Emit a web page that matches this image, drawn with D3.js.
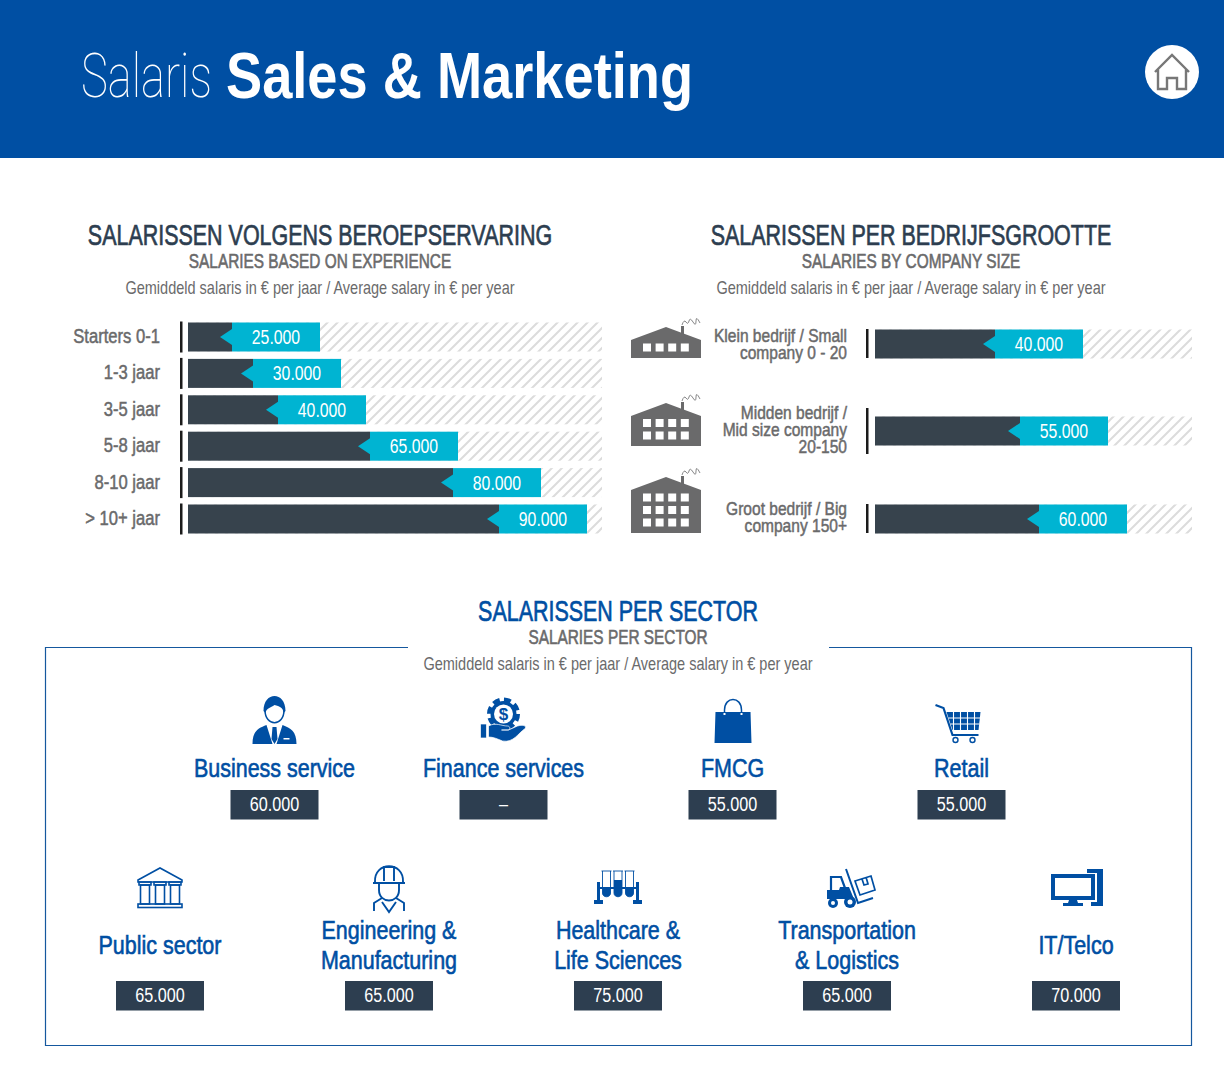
<!DOCTYPE html>
<html>
<head>
<meta charset="utf-8">
<script src="https://cdnjs.cloudflare.com/ajax/libs/d3/7.8.5/d3.min.js"></script>
<style>
html, body { margin: 0; padding: 0; background: #fff; }
svg { display: block; }
text { font-family: "Liberation Sans", sans-serif; }
</style>
</head>
<body>
<div id="body"></div>
<script>
// data
const expCategories = ["Starters 0-1", "1-3 jaar", "3-5 jaar", "5-8 jaar", "8-10 jaar", "> 10+ jaar"];
const expValues = [25000, 30000, 40000, 65000, 80000, 90000];
const sizeCategories = [
  ["Klein bedrijf / Small", "company 0 - 20"],
  ["Midden bedrijf /", "Mid size company", "20-150"],
  ["Groot bedrijf / Big", "company 150+"]
];
const sizeValues = [40000, 55000, 60000];
const sectorTop = ["Business service", "Finance services", "FMCG", "Retail"];
const sectorTopValues = [60000, null, 55000, 55000];
const sectorBottom = [["Public sector"], ["Engineering &", "Manufacturing"], ["Healthcare &", "Life Sciences"], ["Transportation", "& Logistics"], ["IT/Telco"]];
const sectorBottomValues = [65000, 65000, 75000, 65000, 70000];
const avgText = "Gemiddeld salaris in € per jaar / Average salary in € per year";

const BLUE = "#004fa3", DARK = "#37434d", CYAN = "#00b4d2", GREY = "#6a6a6b", BOX = "#2d3e50";
const fmt = v => v == null ? "–" : d3.format(",")(v).replace(/,/g, ".");

const svg = d3.select("#body").append("svg").attr("width", 1224).attr("height", 1076);

svg.append("defs").append("pattern")
  .attr("id", "hatch").attr("width", 10).attr("height", 10)
  .attr("patternUnits", "userSpaceOnUse")
  .append("path").attr("d", "M-2,2 L2,-2 M0,10 L10,0 M8,12 L12,8")
  .attr("stroke", "#dcdcdc").attr("stroke-width", 2);

// no condensed font here, so the text is squeezed to the width it has in the picture
const condense = (t, k) => {
  t.attr("textLength", function () { return this.getComputedTextLength() * k; })
    .attr("lengthAdjust", "spacingAndGlyphs");
  return t;
};
const label = (g, str, x, y, size, fill, opts = {}) => {
  const t = g.append("text").text(str).attr("x", x).attr("y", y)
    .attr("font-size", size).attr("fill", fill)
    .attr("text-anchor", opts.anchor || "middle")
    .attr("font-weight", opts.weight || "normal");
  if (opts.family) t.style("font-family", opts.family);
  if (opts.width) t.attr("textLength", opts.width).attr("lengthAdjust", "spacingAndGlyphs");
  if (opts.k) condense(t, opts.k);
  if (opts.bold) t.attr("stroke", fill).attr("stroke-width", opts.bold);
  return t;
};

// header
svg.append("rect").attr("width", 1224).attr("height", 158).attr("fill", BLUE);
label(svg, "Salaris", 81, 97, 62, "#fff", { anchor: "start", width: 131, weight: 100, family: "Roboto" });
label(svg, "Sales & Marketing", 226, 98, 64, "#fff", { anchor: "start", width: 467, weight: "bold" });
const home = svg.append("g").attr("transform", "translate(1172,72)");
home.append("circle").attr("r", 27).attr("fill", "#fff");
home.append("path")
  .attr("d", "M-17,0 L0,-17 L17,0 M-14,-3 V17 H-5 V6 H5 V17 H14 V-3")
  .attr("fill", "none").attr("stroke", "#777").attr("stroke-width", 2.4);

const heading = (cx, y, a, b, colour) => {
  label(svg, a, cx, y, 29, colour, { k: 0.74, bold: 0.7 });
  label(svg, b, cx, y + 23, 20.5, GREY, { k: 0.75, bold: 0.6 });
  label(svg, avgText, cx, y + 49, 18.5, GREY, { k: 0.784 });
};
heading(320, 245, "SALARISSEN VOLGENS BEROEPSERVARING", "SALARIES BASED ON EXPERIENCE", BOX);
heading(911, 245, "SALARISSEN PER BEDRIJFSGROOTTE", "SALARIES BY COMPANY SIZE", BOX);

// horizontal bars: dark part, cyan value tag with a notch, hatched track behind
const drawBars = (g, values, xScale, yScale, x0, x1, tagWidth) => {
  const h = 29;
  const row = g.selectAll("g.row").data(values).join("g").attr("class", "row");
  row.append("rect").attr("x", x0).attr("y", (d, i) => yScale(i) - h / 2)
    .attr("width", x1 - x0).attr("height", h).attr("fill", "url(#hatch)");
  row.append("rect").attr("x", x0).attr("y", (d, i) => yScale(i) - h / 2)
    .attr("width", d => xScale(d) - x0 - tagWidth).attr("height", h).attr("fill", DARK);
  row.append("rect").attr("x", d => xScale(d) - tagWidth).attr("y", (d, i) => yScale(i) - h / 2)
    .attr("width", tagWidth).attr("height", h).attr("fill", CYAN);
  row.append("path").attr("fill", CYAN)
    .attr("d", (d, i) => {
      const x = xScale(d) - tagWidth, y = yScale(i);
      return `M${x},${y - 8} L${x - 12},${y} L${x},${y + 8} Z`;
    });
  const vals = row.append("text").text(fmt)
    .attr("x", d => xScale(d) - tagWidth / 2).attr("y", (d, i) => yScale(i) + 7)
    .attr("text-anchor", "middle").attr("font-size", 20).attr("fill", "#fff");
  condense(vals, 0.79);
};

// experience chart, the bars of the picture are not proportional so the scale is piecewise
const expX = d3.scaleLinear().domain([0].concat(expValues)).range([188, 320, 341, 366, 458, 541, 587]);
const expY = d3.scalePoint().domain(d3.range(expValues.length)).range([337, 519]);
const expG = svg.append("g");
drawBars(expG, expValues, expX, expY, 188, 602, 88);
expCategories.forEach((c, i) => {
  label(expG, c, 160, expY(i) + 6, 20, GREY, { anchor: "end", k: 0.83, bold: 0.5 });
  expG.append("rect").attr("x", 180).attr("width", 2.5).attr("y", expY(i) - 15.5).attr("height", 31).attr("fill", "#1b1b1b");
});

// company size chart
const sizeX = d3.scaleLinear().domain([0].concat(sizeValues)).range([875, 1083, 1108, 1127]);
const sizeYs = [344, 431, 519];
const sizeY = i => sizeYs[i];
const sizeG = svg.append("g");
drawBars(sizeG, sizeValues, sizeX, sizeY, 875, 1192, 88);

const factory = (g, x, base, rows) => {
  const f = g.append("g").attr("transform", `translate(${x},${base})`);
  const wall = rows === 1 ? 18 : rows === 2 ? 30 : 43;
  const peak = wall + 13;
  f.append("path").attr("fill", GREY)
    .attr("d", `M0,0 V${-wall} L35,${-peak} L70,${-wall} V0 Z`);
  f.append("rect").attr("x", 50).attr("y", -peak - 1).attr("width", 3).attr("height", 8).attr("fill", GREY);
  f.append("path").attr("fill", "none").attr("stroke", GREY).attr("stroke-width", 0.8)
    .attr("d", `M51,${-peak - 2} q2,-6 4,-3 t3,-1 t4,1 t3,-1 t4,2`);
  for (let r = 0; r < rows; r++) {
    for (let c = 0; c < 4; c++) {
      f.append("rect").attr("x", 12 + c * 12.6).attr("y", -14.5 - r * 12.5)
        .attr("width", 8).attr("height", 8).attr("fill", "#fff");
    }
  }
};
sizeCategories.forEach((lines, i) => {
  factory(sizeG, 631, [358, 446, 533][i], i + 1);
  const lh = 17;
  const last = [360, 454, 533][i];
  lines.forEach((l, j) => {
    label(sizeG, l, 847, last - 1 - (lines.length - 1 - j) * lh, 18.5, GREY, { anchor: "end", k: 0.84, bold: 0.5 });
  });
  const tick = [[329, 29], [408, 46], [504, 29]][i];
  sizeG.append("rect").attr("x", 866).attr("width", 2.5).attr("y", tick[0]).attr("height", tick[1]).attr("fill", "#1b1b1b");
});

// sector box
svg.append("path").attr("fill", "none").attr("stroke", "#15589e").attr("stroke-width", 1.2)
  .attr("d", "M408,647.5 H45.5 V1045.5 H1191.5 V647.5 H829");
heading(618, 621, "SALARISSEN PER SECTOR", "SALARIES PER SECTOR", BLUE);

const ic = (x, y) => svg.append("g").attr("transform", `translate(${x},${y})`).attr("fill", BLUE);
const line = g => g.attr("fill", "none").attr("stroke", BLUE);

const icons = [
  // business man
  (x, y) => {
    const g = ic(x, y);
    g.append("path").attr("d", "M-22,23 C-22,10 -16,7 -8,4 L-2,23 Z M22,23 C22,10 16,7 8,4 L2,23 Z M-2,6 H2 L3,18 L0,23 L-3,18 Z");
    g.append("path").attr("d", "M-11,-10 C-11,-30 11,-30 11,-10 L9,-8 C9,-13 5,-15 0,-16 C-4,-13 -8,-13 -9,-8 Z");
    line(g.append("path")).attr("stroke-width", 1.5).attr("d", "M-9.5,-11 C-9.5,6 9.5,6 9.5,-11");
    g.append("rect").attr("x", 9).attr("y", 17).attr("width", 6).attr("height", 1.5).attr("fill", "#fff");
  },
  // gear, dollar and hand
  (x, y) => {
    const g = ic(x, y);
    g.append("circle").attr("r", 13).attr("cy", -7);
    line(g.append("circle")).attr("r", 14).attr("cy", -7).attr("stroke-width", 5).attr("stroke-dasharray", "6.8 4.2");
    g.append("circle").attr("r", 9.5).attr("cy", -7).attr("fill", "#fff");
    g.append("text").text("$").attr("y", -1).attr("text-anchor", "middle").attr("font-size", 17).attr("font-weight", "bold").attr("fill", BLUE);
    g.append("path").attr("d", "M-23,3 H-17 V17 H-23 Z M-15,5 C-8,1 -2,5 4,5 C7,5 7,9 4,9 H-2 H5 L14,5 C21,3 24,6 21,8 C15,12 10,22 -1,20 C-6,18 -10,16 -15,16 Z").attr("stroke", "#fff").attr("stroke-width", 0.7);
  },
  // shopping bag
  (x, y) => {
    const g = ic(x, y);
    g.append("path").attr("d", "M-17,-9 H18 L19,22 H-18 Z");
    line(g.append("path")).attr("stroke-width", 1.5).attr("d", "M-8,-5 V-11 C-8,-25 9,-25 9,-11 V-5");
    g.append("rect").attr("x", -9).attr("y", -8).attr("width", 2).attr("height", 2).attr("fill", "#fff");
    g.append("rect").attr("x", 8).attr("y", -8).attr("width", 2).attr("height", 2).attr("fill", "#fff");
  },
  // cart
  (x, y) => {
    const g = ic(x, y);
    line(g.append("path")).attr("stroke-width", 2.2).attr("d", "M-26,-16 L-18,-13 L-9,14 H17");
    g.append("path").attr("d", "M-15,-9 H19 L17,9 H-9 Z");
    line(g.append("path")).attr("stroke", "#fff").attr("stroke-width", 1.1)
      .attr("d", "M-13,-3 H19 M-11,3 H18 M-8,-9 V9 M-1,-9 V9 M6,-9 V9 M13,-9 V9");
    line(g.append("circle")).attr("cx", -6).attr("cy", 19).attr("r", 2.5).attr("stroke-width", 1.4);
    line(g.append("circle")).attr("cx", 11).attr("cy", 19).attr("r", 2.5).attr("stroke-width", 1.4);
  },
  // public building
  (x, y) => {
    const g = line(ic(x, y)).attr("stroke-width", 1.6);
    g.append("path").attr("d", "M-22,-8 L0,-20 L22,-8 V-6 H-22 Z");
    g.append("rect").attr("x", -22).attr("y", 16).attr("width", 44).attr("height", 3.5);
    [-15, 0, 15].forEach(c => {
      g.append("rect").attr("x", c - 4.5).attr("y", -3).attr("width", 9).attr("height", 19);
      g.append("path").attr("d", `M${c - 6},-6 H${c + 6} V-3 H${c - 6} Z`);
    });
  },
  // worker with helmet
  (x, y) => {
    const g = line(ic(x, y)).attr("stroke-width", 1.9);
    g.append("path").attr("d", "M-14,-6 C-15,-27 15,-27 14,-6 M-16,-5 H16 M-5,-7 V-21 H5 V-7");
    g.append("path").attr("d", "M-10,-5 V2 C-10,16 10,16 10,2 V-5");
    g.append("path").attr("d", "M-7,10 L-15,15 V23 M7,10 L15,15 V23 M-7,14 L0,24 L7,14");
  },
  // test tubes
  (x, y) => {
    const g = ic(x, y);
    g.append("path").attr("d", "M-21,-6 H-18 V12 H-15 V16 H-24 V12 H-21 Z M18,-6 H21 V12 H24 V16 H15 V12 H18 Z M-18,-1 H18 V1 H-18 Z");
    [-11.5, 0, 11.5].forEach((c, i) => {
      line(g.append("path")).attr("stroke-width", 0.9).attr("d", `M${c - 4},-17 V5 C${c - 4},10 ${c + 4},10 ${c + 4},5 V-17 M${c - 5},-17 H${c + 5}`);
      g.append("path").attr("d", `M${c - 4},${i === 1 ? -8 : 1} H${c + 4} V5 C${c + 4},10 ${c - 4},10 ${c - 4},5 Z`);
    });
  },
  // forklift
  (x, y) => {
    const g = ic(x, y);
    g.append("path").attr("d", "M-20,2 H-8 L-7,-1 H2 L7,11 H-20 Z");
    line(g.append("path")).attr("stroke-width", 2.2).attr("d", "M-16,2 V-11 H-6 L-2,0");
    line(g.append("path")).attr("stroke-width", 2).attr("d", "M-1,-19 L11,15 L26,10");
    line(g.append("path")).attr("stroke-width", 1.7).attr("d", "M8,-7 L24,-12 L28,2 L13,7 Z M15,-9 L17,-3 L21,-4 L19,-11");
    g.append("circle").attr("cx", -14).attr("cy", 15).attr("r", 5);
    g.append("circle").attr("cx", 3).attr("cy", 14).attr("r", 6);
    g.append("circle").attr("cx", -14).attr("cy", 15).attr("r", 2).attr("fill", "#fff");
    g.append("circle").attr("cx", 3).attr("cy", 14).attr("r", 2.5).attr("fill", "#fff");
  },
  // computer
  (x, y) => {
    const g = ic(x, y);
    g.append("path").attr("d", "M11,-19 H27 V18 H21 V-15 H11 Z");
    g.append("rect").attr("x", 15).attr("y", 14).attr("width", 12).attr("height", 4);
    g.append("path").attr("fill-rule", "evenodd").attr("d", "M-25,-14 H19 V12 H-25 Z M-21,-10 V8 H15 V-10 Z");
    g.append("path").attr("d", "M-7,12 H1 L2,15 H7 V18 H-13 V15 H-8 Z");
  }
];

const colX = d3.scalePoint().domain(d3.range(5)).range([160, 1076]);
const valueBox = (cx, y, v) => {
  svg.append("rect").attr("x", cx - 44).attr("y", y).attr("width", 88).attr("height", 29.5).attr("fill", BOX);
  label(svg, fmt(v), cx, y + 21, 20, "#fff", { k: 0.81 });
};
const sectorName = (str, cx, y) => label(svg, str, cx, y, 25, BLUE, { k: 0.859, bold: 0.6 });

sectorTop.forEach((s, i) => {
  const cx = colX(i) + colX.step() / 2;
  icons[i](cx, 721);
  sectorName(s, cx, 777);
  valueBox(cx, 790, sectorTopValues[i]);
});
sectorBottom.forEach((lines, i) => {
  const cx = colX(i);
  icons[i + 4](cx, 888);
  lines.forEach((l, j) => sectorName(l, cx, lines.length === 1 ? 954 : 939 + j * 30));
  valueBox(cx, 981, sectorBottomValues[i]);
});
</script>
</body>
</html>
